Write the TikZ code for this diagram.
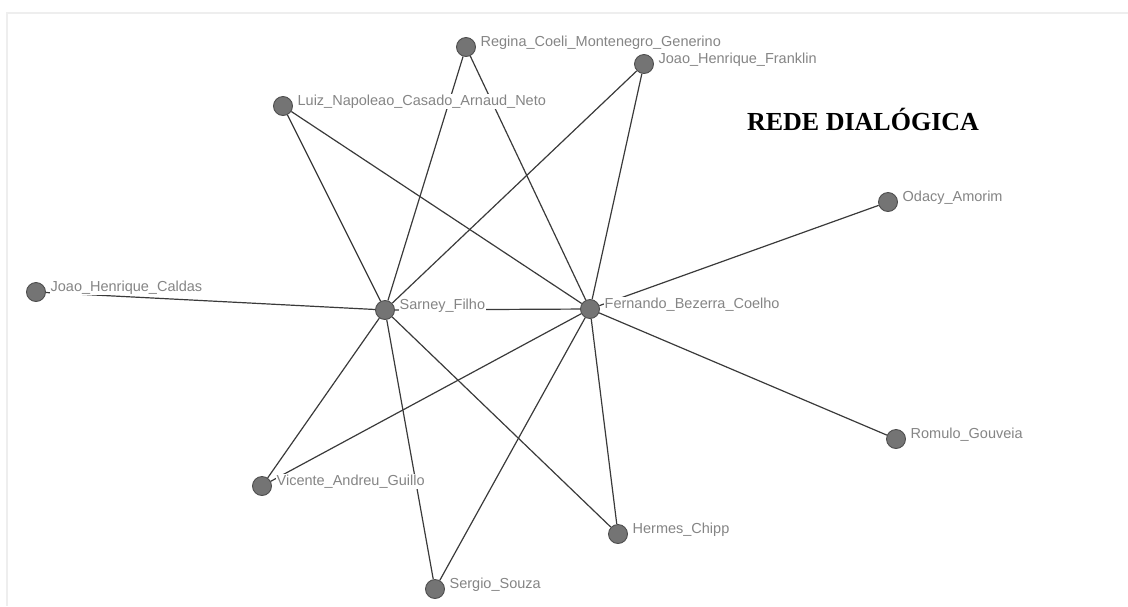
\documentclass[tikz,border=0pt]{standalone}
\usepackage{fontspec}
\setmainfont{Liberation Serif}
\newfontfamily\actorfont{Liberation Sans}
\usetikzlibrary{backgrounds}

\definecolor{vertexfill}{HTML}{747474}
\definecolor{vertexline}{HTML}{4E4E4E}
\definecolor{tiecolor}{HTML}{3A3A3A}
\definecolor{namegrey}{HTML}{858585}
\definecolor{framegrey}{HTML}{EEEEEE}

\tikzset{
    actor/.style={circle,fill=vertexfill,draw=vertexline,line width=0.9pt,
        minimum size=19pt,inner sep=0pt},
    actorname/.style={fill=white,inner sep=1pt,text=namegrey,xshift=3.5pt,yshift=4.5pt,
        font=\actorfont\fontsize{14.5}{15}\selectfont},
    tie/.style={draw=tiecolor,line width=1.2pt}
}

\begin{document}
\begin{tikzpicture}[x=1pt,y=-1pt]
    \useasboundingbox (0,0) rectangle (1128,606);
    \draw[framegrey,line width=1.5pt] (7,606) -- (7,13) -- (1128,13);

    % actors of the network
    \node[actor,label={[actorname]right:Regina\_Coeli\_Montenegro\_Generino}] (regina) at (466,47) {};
    \node[actor,label={[actorname]right:Joao\_Henrique\_Franklin}] (franklin) at (644,64) {};
    \node[actor,label={[actorname]right:Luiz\_Napoleao\_Casado\_Arnaud\_Neto}] (luiz) at (283,106) {};
    \node[actor,label={[actorname]right:Odacy\_Amorim}] (odacy) at (888,202) {};
    \node[actor,label={[actorname]right:Joao\_Henrique\_Caldas}] (caldas) at (36,292) {};
    \node[actor,label={[actorname]right:Sarney\_Filho}] (sarney) at (385,310) {};
    \node[actor,label={[actorname]right:Fernando\_Bezerra\_Coelho}] (fernando) at (590,309) {};
    \node[actor,label={[actorname]right:Romulo\_Gouveia}] (romulo) at (896,439) {};
    \node[actor,label={[actorname]right:Vicente\_Andreu\_Guillo}] (vicente) at (262,486) {};
    \node[actor,label={[actorname]right:Hermes\_Chipp}] (hermes) at (618,534) {};
    \node[actor,label={[actorname]right:Sergio\_Souza}] (sergio) at (435,589) {};

    % ties, kept behind the actors and their names
    \begin{pgfonlayer}{background}
        \foreach \other in {regina,franklin,luiz,caldas,fernando,vicente,sergio,hermes}
            \draw[tie] (sarney) -- (\other);
        \foreach \other in {regina,franklin,luiz,odacy,romulo,hermes,sergio,vicente}
            \draw[tie] (fernando) -- (\other);
    \end{pgfonlayer}

    \node[font=\bfseries\fontsize{26}{28}\selectfont] (title) at (863,119) {REDE DIALÓGICA};
\end{tikzpicture}
\end{document}
